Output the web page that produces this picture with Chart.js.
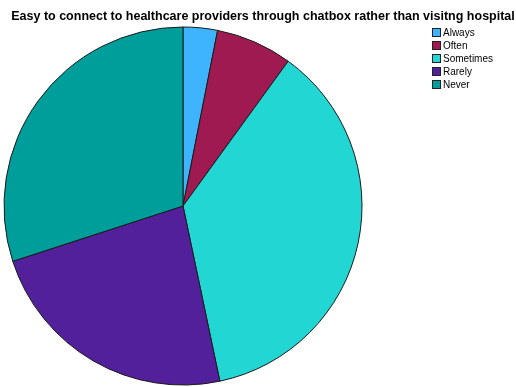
<!DOCTYPE html>
<html>
<head>
<meta charset="utf-8">
<script src="https://cdn.jsdelivr.net/npm/chart.js@4"></script>
<style>
  html, body { margin: 0; padding: 0; background: #fff; }
  #wrap { width: 516px; height: 387px; position: relative; }
</style>
</head>
<body>
<div id="wrap"><canvas id="pieChart"></canvas></div>
<script>
// 数据
const chartTitle = 'Easy to connect to healthcare providers through chatbox rather than visitng hospital';
const categories = ['Always', 'Often', 'Sometimes', 'Rarely', 'Never'];
const percentValues = [3.1, 6.9, 36.7, 23.3, 30.0];
const sliceColors = ['#3db4fd', '#a01a52', '#22d6d3', '#52209a', '#009e9a'];

// 标题和图例（手动绘制，位置贴近原图）
const titleLegendPlugin = {
    id: 'titleLegend',
    afterDraw: function(chart) {
        const ctx = chart.ctx;
        ctx.save();
        ctx.fillStyle = '#000';
        ctx.font = "bold 12.5px 'Liberation Sans', Arial, sans-serif";
        ctx.textAlign = 'center';
        ctx.textBaseline = 'alphabetic';
        ctx.fillText(chartTitle, 263, 20);

        ctx.font = "10px 'Liberation Sans', Arial, sans-serif";
        ctx.textAlign = 'left';
        ctx.textBaseline = 'middle';
        chart.data.labels.forEach(function(label, i) {
            const y = 33 + i * 13;
            ctx.fillStyle = chart.data.datasets[0].backgroundColor[i];
            ctx.fillRect(432.5, y - 4.5, 8, 8);
            ctx.strokeStyle = '#222';
            ctx.lineWidth = 1;
            ctx.strokeRect(432.5, y - 4.5, 8, 8);
            ctx.fillStyle = '#000';
            ctx.fillText(label, 443, y + 0.5);
        });
        ctx.restore();
    }
};

new Chart(document.getElementById('pieChart'), {
    type: 'pie',
    data: {
        labels: categories,
        datasets: [{
            data: percentValues,
            backgroundColor: sliceColors,
            borderColor: '#1a1a1a',
            borderWidth: 1,
            radius: 179
        }]
    },
    options: {
        responsive: true,
        maintainAspectRatio: false,
        animation: false,
        layout: {
            padding: { left: 4, right: 154, top: 27, bottom: 2 }
        },
        plugins: {
            legend: { display: false },
            title: { display: false },
            tooltip: { enabled: false }
        }
    },
    plugins: [titleLegendPlugin]
});
</script>
</body>
</html>
